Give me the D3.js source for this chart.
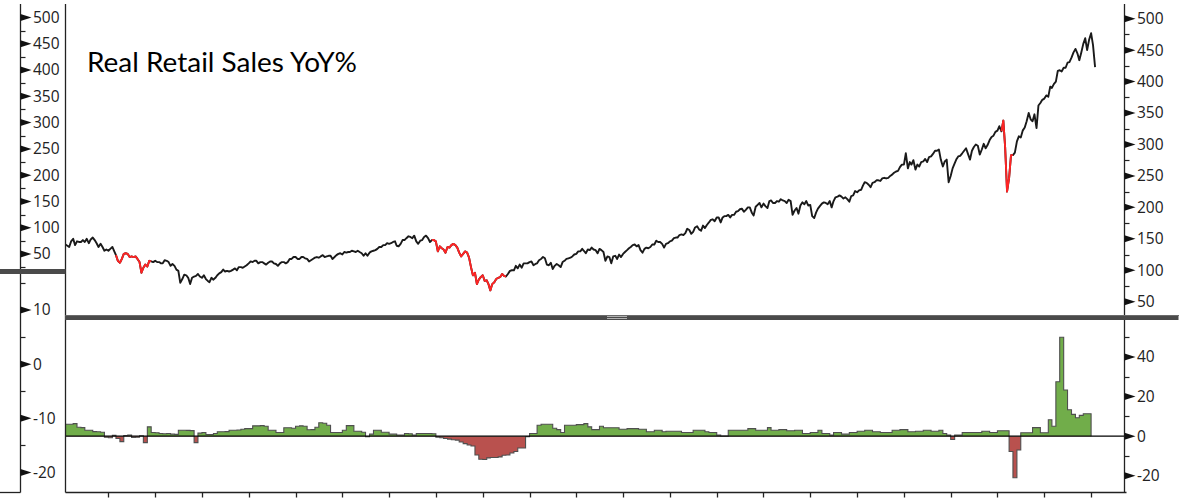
<!DOCTYPE html>
<html><head><meta charset="utf-8">
<script src="https://cdn.jsdelivr.net/npm/d3@7"></script>
<style>html,body{margin:0;padding:0;background:#fff;overflow:hidden}</style>
</head><body>
<svg id="c" width="1179" height="498"></svg>
<script>
// ---------------- DATA ----------------
const chartTitle = "Real Retail Sales YoY%";
// SPY price, semi-monthly (1st and 16th of each month), starting 2000-02-01
const priceStart = "2000-02-01";
const spyPrice = [
 // 2000 (Feb-Dec)
 141,139,137,146,150,140,146,145,145,148,145,150,143,149,152,148,143,137,142,137,131,133,
 // 2001
 131,134,137,130,124,115,112,118,126,127,126,121,122,121,122,118,113,96,104,109,106,115,114,113,
 // 2002
 115,113,113,111,111,116,115,113,107,110,107,101,99,80,86,93,92,88,78,88,90,91,94,90,
 // 2003
 88,92,86,83,81,88,85,88,92,95,97,101,98,99,98,99,101,103,100,105,105,104,106,108,
 // 2004
 111,114,113,115,115,111,113,113,111,109,112,114,114,111,110,107,111,113,113,111,113,118,118,121,
 // 2005
 121,118,118,121,121,119,118,114,116,118,120,121,120,122,124,121,122,123,123,118,121,124,126,127,
 // 2006
 125,129,128,129,129,131,130,129,131,129,127,123,127,123,128,130,131,132,134,137,137,140,140,143,
 // 2007
 142,143,145,146,139,138,142,148,148,151,154,153,151,155,146,142,147,148,153,155,151,145,148,148,
 // 2008
 146,130,138,135,133,128,137,136,140,142,140,136,128,122,126,130,128,120,105,92,96,78,85,89,
 // 2009
 92,83,84,77,68,78,81,86,88,89,94,91,90,94,99,100,100,107,103,109,104,111,111,111,
 // 2010
 113,114,108,110,111,116,118,121,119,109,108,112,102,107,110,108,105,113,115,118,119,120,122,125,
 // 2011
 126,130,130,134,131,127,133,132,136,133,132,127,134,132,129,115,122,121,111,122,123,118,125,121,
 // 2012
 126,129,132,135,137,140,141,138,140,132,128,134,136,135,137,141,141,147,145,145,142,136,142,143,
 // 2013
 146,147,151,152,152,156,157,156,159,166,164,158,161,168,170,165,163,171,167,172,176,180,181,178,
 // 2014
 184,184,176,184,186,186,188,184,188,188,193,194,197,198,193,196,200,200,192,187,201,204,207,200,
 // 2015
 206,202,199,210,211,207,207,210,209,213,211,210,207,212,210,188,195,199,190,203,208,205,210,203,
 // 2016
 204,186,183,192,198,202,206,208,207,205,210,200,210,216,217,219,217,214,216,213,209,218,219,226,
 // 2017
 224,227,228,235,240,239,236,232,239,240,243,243,242,246,247,246,247,250,252,255,257,258,264,268,
 // 2018
 268,286,262,272,268,275,260,268,265,272,273,277,272,280,281,285,290,290,292,276,265,273,276,240,
 // 2019
 250,262,270,277,281,282,286,290,294,285,276,290,296,300,298,284,292,301,294,299,307,312,314,320,
 // 2020
 322,329,321,338,296,225,247,283,283,287,305,313,311,322,327,337,350,340,337,348,326,362,366,371,
 // 2021
 373,378,376,392,390,396,400,417,418,416,422,422,430,431,438,446,452,445,434,446,460,469,450,466,
 // 2022
 477,458,423
];
// NBER recessions (price line drawn red)
const recessions = [["2001-03-01","2001-11-30"],["2007-12-01","2009-06-30"],["2020-02-01","2020-04-30"]];

// Real retail sales YoY %, monthly bars, first bar plotted at 2000-02
const salesStart = "2000-02-01";
const realSalesYoY = [
 // 2000 (Feb-Dec)
 6.0,6.0,6.3,4.5,4.3,3.0,3.0,2.3,2.2,2.0,-0.6,
 // 2001
 -0.8,0.4,-1.2,-2.8,0.3,0.5,-0.7,-0.6,0.2,-3.3,4.7,1.8,
 // 2002
 1.7,1.3,1.2,1.3,1.0,0.9,3.0,3.0,2.9,2.8,-3.3,1.5,
 // 2003
 1.8,0.8,0.8,1.3,2.2,2.2,2.3,3.0,3.0,3.1,3.5,3.8,
 // 2004
 3.8,5.2,5.2,5.3,5.0,3.0,3.0,1.8,1.8,4.2,4.2,4.0,
 // 2005
 5.0,5.2,5.0,3.2,3.3,4.5,6.8,6.5,5.5,1.8,1.8,1.8,
 // 2006
 3.0,5.3,5.3,2.5,2.5,2.0,-0.3,1.0,3.0,3.0,2.0,2.0,
 // 2007
 1.0,1.0,0.5,0.5,1.3,1.2,0.5,1.3,1.3,1.3,1.3,1.2,
 // 2008
 -0.5,-0.8,-1.2,-1.5,-1.8,-2.0,-3.0,-3.8,-4.5,-5.0,-9.5,-11.7,
 // 2009
 -11.8,-11.0,-10.8,-10.8,-10.5,-9.7,-9.5,-8.5,-7.8,-6.0,-6.0,-0.3,
 // 2010
 1.3,1.3,5.5,6.0,6.0,6.0,4.0,3.3,1.8,5.5,5.5,5.5,
 // 2011
 5.8,5.8,6.3,4.7,3.3,3.3,5.0,4.2,4.2,4.2,4.2,3.5,
 // 2012
 3.5,3.8,3.8,3.8,3.5,3.5,2.2,2.2,3.0,3.0,2.2,2.5,
 // 2013
 2.5,2.5,2.5,1.8,1.8,1.8,3.0,3.0,3.0,2.2,1.8,1.8,
 // 2014
 0.5,0.1,0.1,3.0,3.0,3.0,3.0,3.0,3.8,3.8,3.0,3.0,
 // 2015
 3.0,4.3,3.0,3.0,3.3,3.3,2.7,2.7,3.0,3.0,1.3,1.3,
 // 2016
 1.8,1.8,3.0,1.3,1.3,0.5,1.8,1.8,1.0,1.0,1.8,1.8,
 // 2017
 2.5,2.5,3.0,3.0,2.2,2.2,1.8,1.8,1.8,3.0,3.0,3.3,
 // 2018
 3.3,2.2,2.2,2.5,2.5,3.0,3.0,2.5,2.5,3.0,1.3,0.5,
 // 2019
 -1.7,0.5,0.5,1.8,1.8,1.8,1.8,1.8,2.5,2.5,1.8,1.8,
 // 2020
 2.7,2.7,2.7,-7.8,-21.0,-7.0,1.7,1.7,1.7,4.3,4.3,1.7,
 // 2021
 1.7,8.3,5.0,27.5,50.0,23.3,13.3,11.0,9.3,10.5,11.3,11.3
];

// tick labels
const leftTopTicks = [500,450,400,350,300,250,200,150,100,50];
const leftTopMinor = [475,425,375,325,275,225,175,125,75,25];
const leftLowTicks = [10,0,-10,-20];
const leftLowMinor = [15,5,-5,-15];
const rightTopTicks = [500,450,400,350,300,250,200,150,100,50];
const rightTopMinor = [475,425,375,325,275,225,175,125,75];
const rightLowTicks = [40,20,0,-20];
const rightLowMinor = [50,30,10,-10];
const xYearTicks = d3.range(2001, 2023);

// ---------------- DRAW ----------------
const svg = d3.select("#c");
const parse = d3.timeParse("%Y-%m-%d");
const AXL = 20.5, PL = 65.5, PR = 1124.5, TOP = 4, SEP0 = 315, SEP1 = 320, BOT = 492.5;
const lineCol = "#1a1a1a", redCol = "#ff2424";
const green = "#71ad4a", brick = "#b9514e", outline = "#4f4f4f";
const font = "'Open Sans', 'Noto Sans', sans-serif";

const x = d3.scaleTime().domain([new Date(2000,0,1), new Date(2022,0,1)]).range([61.5, 1091.1]);
const yP = d3.scaleLinear().domain([50,500]).range([301.7,18.7]);   // right top axis (price)
const yH = d3.scaleLinear().domain([-20,40]).range([475.7,357]);    // right low axis (yoy)
const yLT = d3.scaleLinear().domain([50,500]).range([254,17.5]);    // left top scale
const yLL = d3.scaleLinear().domain([-20,10]).range([472.5,310]);   // left low scale

const defs = svg.append("defs");
defs.append("clipPath").attr("id","clipTop").append("rect")
  .attr("x",PL).attr("y",TOP).attr("width",PR-PL).attr("height",SEP0-TOP);
defs.append("clipPath").attr("id","clipPos").append("rect")
  .attr("x",PL).attr("y",SEP1).attr("width",PR-PL).attr("height",yH(0)-SEP1);
defs.append("clipPath").attr("id","clipNeg").append("rect")
  .attr("x",PL).attr("y",yH(0)).attr("width",PR-PL).attr("height",BOT-yH(0));
defs.append("clipPath").attr("id","clipLow").append("rect")
  .attr("x",PL).attr("y",SEP1).attr("width",PR-PL).attr("height",BOT-SEP1);

// ---- histogram (step area) ----
const sStart = parse(salesStart);
const bars = realSalesYoY.map((v,i)=>({d0:d3.timeMonth.offset(sStart,i), d1:d3.timeMonth.offset(sStart,i+1), v}));
const opts = [[x(bars[0].d0), yH(0)]];
bars.forEach(b=>{opts.push([x(b.d0), yH(b.v)]); opts.push([x(b.d1), yH(b.v)]);});
opts.push([x(bars[bars.length-1].d1), yH(0)]);
const stepPath = d3.line()(opts) + "Z";
svg.append("path").attr("d", stepPath).attr("fill",green).attr("clip-path","url(#clipPos)");
svg.append("path").attr("d", stepPath).attr("fill",brick).attr("clip-path","url(#clipNeg)");
svg.append("g").attr("clip-path","url(#clipLow)").append("path").attr("d", d3.line()(opts)).attr("fill","none")
  .attr("stroke",outline).attr("stroke-width",1.1).attr("stroke-linejoin","miter");
svg.append("line").attr("x1",PL).attr("x2",PR).attr("y1",yH(0)).attr("y2",yH(0))
  .attr("stroke","#000").attr("stroke-width",1.3);

// ---- price line ----
const pStart = parse(priceStart);
const pts = spyPrice.map((v,k)=>({d: new Date(pStart.getFullYear(), pStart.getMonth()+Math.floor(k/2), k%2===0?1:16), v}));
const gTop = svg.append("g").attr("clip-path","url(#clipTop)");
const pl = d3.line().x(d=>x(d.d)).y(d=>yP(d.v));
gTop.append("path").attr("d", pl(pts)).attr("fill","none").attr("stroke",lineCol)
  .attr("stroke-width",1.9).attr("stroke-linejoin","round");
recessions.forEach(([a,b])=>{
  const s = parse(a), e = parse(b);
  let idx = pts.map((p,i)=>(p.d>=s && p.d<=e)?i:-1).filter(i=>i>=0);
  if (!idx.length) return;
  const seg = pts.slice(idx[0], Math.min(pts.length, idx[idx.length-1]+2));
  gTop.append("path").attr("d", pl(seg)).attr("fill","none").attr("stroke",redCol)
    .attr("stroke-width",1.9).attr("stroke-linejoin","round");
});

// ---- title ----
svg.append("text").attr("x",87).attr("y",72).text(chartTitle)
  .attr("font-family","Lato, 'Open Sans', sans-serif").attr("font-size",26).attr("fill","#000")
  .attr("textLength",270).attr("lengthAdjust","spacingAndGlyphs");

// ---- frame lines ----
const fr = svg.append("g").attr("stroke","#222").attr("stroke-width",1.3).attr("fill","none");
fr.append("line").attr("x1",AXL).attr("x2",AXL).attr("y1",TOP).attr("y2",BOT);
fr.append("line").attr("x1",PL).attr("x2",PL).attr("y1",TOP).attr("y2",BOT);
fr.append("line").attr("x1",PR).attr("x2",PR).attr("y1",TOP).attr("y2",BOT);
fr.append("line").attr("x1",0).attr("x2",AXL).attr("y1",BOT).attr("y2",BOT);
fr.append("line").attr("x1",PL).attr("x2",PR+2).attr("y1",BOT).attr("y2",BOT);
// x year ticks
xYearTicks.forEach(yr=>{
  const xx = Math.round(x(new Date(yr,0,1)))+0.5;
  fr.append("line").attr("x1",xx).attr("x2",xx).attr("y1",BOT).attr("y2",BOT+5);
});

// separator bars
svg.append("rect").attr("x",PL-0.5).attr("y",SEP0).attr("width",1179-PL).attr("height",SEP1-SEP0).attr("fill","#4a4a4a");
svg.append("line").attr("x1",PL).attr("x2",1179).attr("y1",SEP0+0.5).attr("y2",SEP0+0.5).attr("stroke","#6a6a6a");
svg.append("rect").attr("x",0).attr("y",269).attr("width",PL).attr("height",5).attr("fill","#4a4a4a");
svg.append("rect").attr("x",607).attr("y",316).attr("width",20).attr("height",1).attr("fill","#b0b0b0");
svg.append("rect").attr("x",607).attr("y",318).attr("width",20).attr("height",1).attr("fill","#b0b0b0");

// ---- axes with triangle markers ----
function axis(x0, scale, majors, minors, labels){
  const g = svg.append("g");
  minors.forEach(v=>{
    const yy = Math.round(scale(v))+0.5;
    g.append("line").attr("x1",x0).attr("x2",x0+5).attr("y1",yy).attr("y2",yy).attr("stroke","#222").attr("stroke-width",1.2);
  });
  majors.forEach((v,i)=>{
    const yy = scale(v);
    g.append("path").attr("d",`M${x0},${yy-3.5}L${x0+11},${yy}L${x0},${yy+3.5}Z`).attr("fill","#111");
    g.append("text").attr("x",x0+12.5).attr("y",yy).attr("dy","0.35em").text(labels[i])
      .attr("font-family",font).attr("font-size",15.5).attr("fill","#222");
  });
}
axis(AXL, yLT, leftTopTicks, leftTopMinor, leftTopTicks.map(String));
axis(AXL, yLL, leftLowTicks, leftLowMinor, leftLowTicks.map(String));
axis(PR, yP, rightTopTicks, rightTopMinor, rightTopTicks.map(String));
axis(PR, yH, rightLowTicks, rightLowMinor, rightLowTicks.map(String));
</script>
</body></html>
